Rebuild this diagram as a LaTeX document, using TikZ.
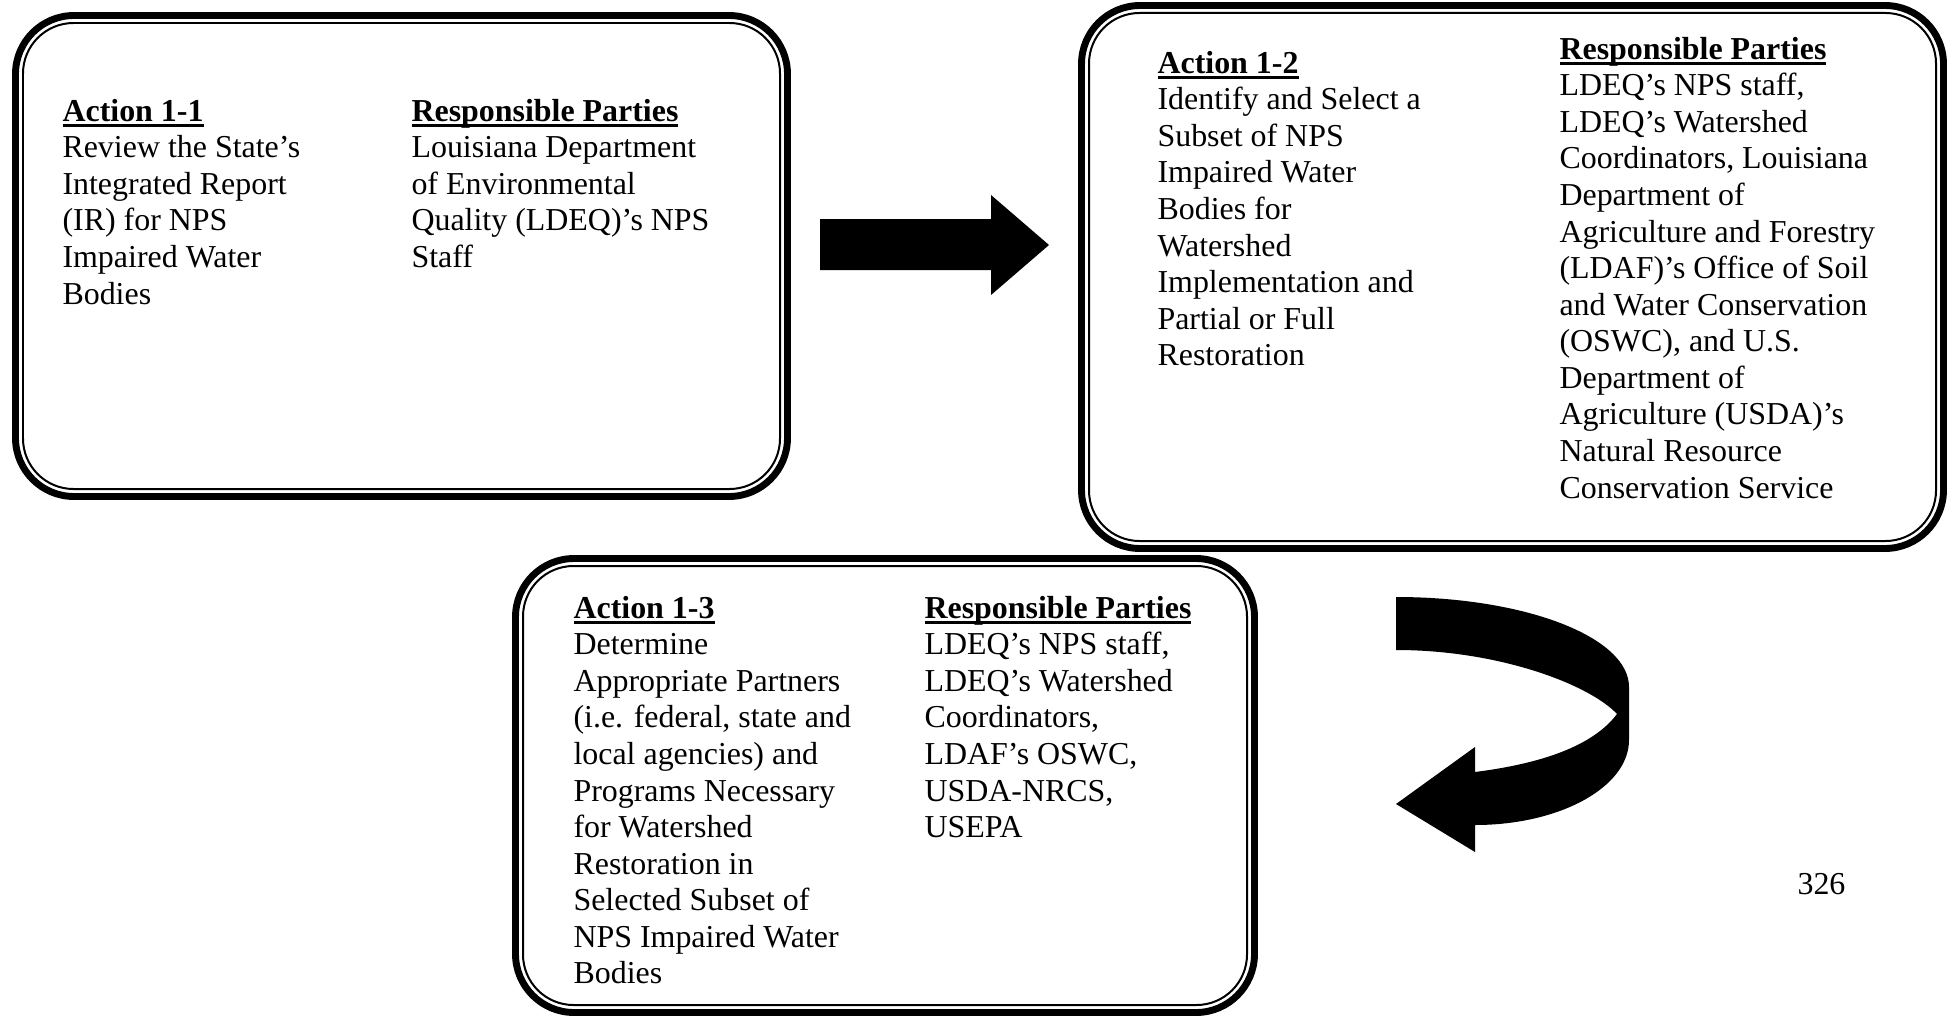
\documentclass[tikz,border=0pt]{standalone}
\usepackage{fontspec}
\setmainfont{Liberation Serif}
\usetikzlibrary{positioning}

\newcommand{\headtxt}[1]{\setbox0\hbox{\textbf{#1}}\rlap{\rule[-2.1pt]{\wd0}{0.95pt}}\box0}

\begin{document}
\begin{tikzpicture}[x=0.3759pt, y=-0.3759pt,
    outerbox/.style={draw, line width=2.6pt, rounded corners=22pt},
    innerbox/.style={draw, line width=0.75pt, rounded corners=19pt},
    coltext/.style={anchor=north west, inner sep=0pt, align=left,
      font=\fontsize{12pt}{13.75pt}\selectfont},
    blockarrow/.style={fill=black}]
  \useasboundingbox (0,0) rectangle (1953,1019);

  \draw[outerbox] (15.5,15.5) rectangle (787.5,496.5);
  \draw[innerbox] (23,23) rectangle (780,489);
  \node[coltext] (act11) at (62,98.5) {\headtxt{Action 1-1}\\
    Review the State's\\Integrated Report\\(IR) for NPS\\Impaired Water\\Bodies};
  \node[coltext] (resp11) at (411,98.5) {\headtxt{Responsible Parties}\\
    Louisiana Department\\of Environmental\\Quality (LDEQ)'s NPS\\Staff};

  \draw[outerbox] (1081.5,5.5) rectangle (1943.5,548.5);
  \draw[innerbox] (1089,13) rectangle (1936,541);
  \node[coltext] (act12) at (1157,50.5) {\headtxt{Action 1-2}\\
    Identify and Select a\\Subset of NPS\\Impaired Water\\Bodies for\\Watershed\\
    Implementation and\\Partial or Full\\Restoration};
  \node[coltext] (resp12) at (1559,36.5) {\headtxt{Responsible Parties}\\
    LDEQ's NPS staff,\\LDEQ's Watershed\\Coordinators, Louisiana\\Department of\\
    Agriculture and Forestry\\(LDAF)'s Office of Soil\\and Water Conservation\\
    (OSWC), and U.S.\\Department of\\Agriculture (USDA)'s\\Natural Resource\\
    Conservation Service};

  \draw[outerbox] (515.5,558.5) rectangle (1254.5,1012.5);
  \draw[innerbox] (523,566) rectangle (1247,1005);
  \node[coltext] (act13) at (573,595.5) {\headtxt{Action 1-3}\\
    Determine\\Appropriate Partners\\(i.e. federal, state and\\local agencies) and\\
    Programs Necessary\\for Watershed\\Restoration in\\Selected Subset of\\
    NPS Impaired Water\\Bodies};
  \node[coltext] (resp13) at (924,595.5) {\headtxt{Responsible Parties}\\
    LDEQ's NPS staff,\\LDEQ's Watershed\\Coordinators,\\LDAF's OSWC,\\
    USDA-NRCS,\\USEPA};

  \fill[blockarrow] (820,219) -- (991,219) -- (991,195) -- (1049,245)
    -- (991,295) -- (991,270) -- (820,270) -- cycle;

  \fill[blockarrow] (1396,597) .. controls (1525,597) and (1629,637) .. (1629,687)
    -- (1629,740) .. controls (1629,787) and (1560,825) .. (1475,825)
    -- (1475,852) -- (1396,804) -- (1475,747) -- (1475,772)
    .. controls (1530,765) and (1590,750) .. (1617,714)
    .. controls (1590,685) and (1500,650) .. (1396,650) -- cycle;

  \node[coltext] (pagenum) at (1797,872.5) {326};
\end{tikzpicture}
\end{document}
